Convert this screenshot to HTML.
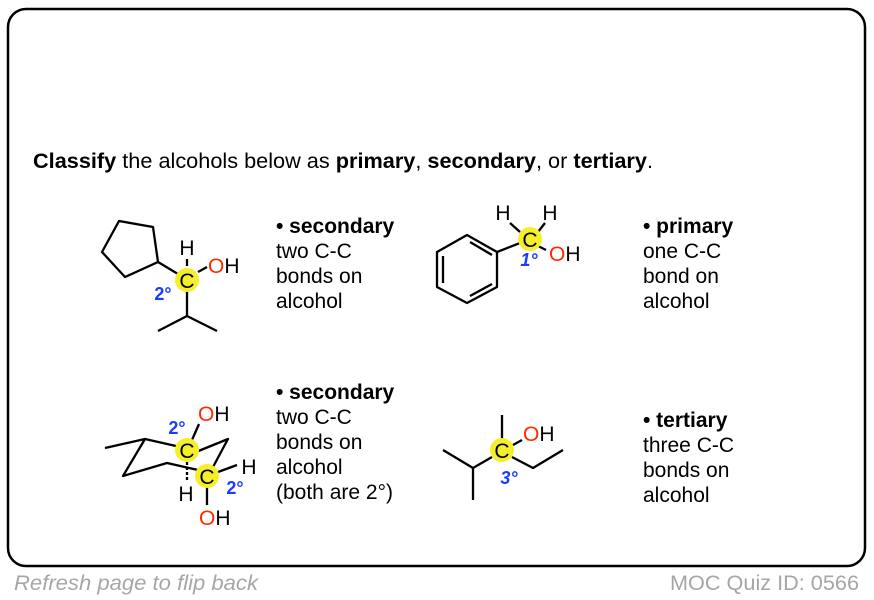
<!DOCTYPE html>
<html><head><meta charset="utf-8"><style>
html,body{margin:0;padding:0;background:#fff;}
svg{display:block;}
text{font-family:"Liberation Sans",Arial,sans-serif;}
</style></head><body>
<svg width="874" height="600" viewBox="0 0 874 600" xmlns="http://www.w3.org/2000/svg">
<rect x="8" y="9" width="857" height="557" rx="18" ry="18" fill="#fff" stroke="#000" stroke-width="2.5"/>
<text x="33" y="168" font-size="21.5" fill="#000" textLength="620" lengthAdjust="spacingAndGlyphs"><tspan font-weight="bold">Classify</tspan> the alcohols below as <tspan font-weight="bold">primary</tspan>, <tspan font-weight="bold">secondary</tspan>, or <tspan font-weight="bold">tertiary</tspan>.</text>

<g font-size="21" fill="#000">
<text x="276" y="233"><tspan font-weight="bold">• secondary</tspan><tspan x="276" y="258">two C-C</tspan><tspan x="276" y="283">bonds on</tspan><tspan x="276" y="308">alcohol</tspan></text>
<text x="643" y="233"><tspan font-weight="bold">• primary</tspan><tspan x="643" y="258">one C-C</tspan><tspan x="643" y="283">bond on</tspan><tspan x="643" y="308">alcohol</tspan></text>
<text x="276" y="399"><tspan font-weight="bold">• secondary</tspan><tspan x="276" y="424">two C-C</tspan><tspan x="276" y="449">bonds on</tspan><tspan x="276" y="474">alcohol</tspan><tspan x="276" y="499">(both are 2°)</tspan></text>
<text x="643" y="427"><tspan font-weight="bold">• tertiary</tspan><tspan x="643" y="452">three C-C</tspan><tspan x="643" y="477">bonds on</tspan><tspan x="643" y="502">alcohol</tspan></text>
</g>

<g stroke="#000" stroke-width="2.3" fill="none" stroke-linejoin="round">
<polygon points="102,252 119,221 153,227 158,262 125,277"/>
<line x1="158" y1="262" x2="178" y2="274"/>
<line x1="187" y1="290" x2="187" y2="316"/>
<polyline points="158,331 187,316 217,331"/>
<line x1="198" y1="272" x2="207" y2="267"/>
<line x1="187" y1="266" x2="187" y2="259"/>
<polygon points="437,252 467,235 497,252 497,287 467,303 437,287"/>
<line x1="443" y1="256" x2="443" y2="283"/>
<line x1="470" y1="242" x2="492" y2="255"/>
<line x1="470" y1="296" x2="492" y2="284"/>
<line x1="497" y1="252" x2="520" y2="243"/>
<line x1="510" y1="223" x2="520" y2="232"/>
<line x1="545" y1="223" x2="538" y2="232"/>
<line x1="538" y1="246" x2="546" y2="250"/>
<line x1="105" y1="448" x2="145" y2="439"/>
<polyline points="176,446 145,439 123,476 167,463 198,470"/>
<polyline points="196,452 228,439 213,467"/>
<line x1="192" y1="440" x2="199" y2="424"/>
<line x1="218" y1="472" x2="237" y2="465"/>
<line x1="207" y1="486" x2="207" y2="505"/>
<line x1="187" y1="462" x2="187" y2="480" stroke-dasharray="3,2"/>
<line x1="502" y1="415" x2="502" y2="439"/>
<line x1="513" y1="445" x2="522" y2="440"/>
<polyline points="512,457 533,468 563,450"/>
<polyline points="492,457 473,468 443,450"/>
<line x1="473" y1="468" x2="473" y2="500"/>
</g>

<g fill="#f5ee2a">
<circle cx="187" cy="280" r="12"/>
<circle cx="530" cy="239" r="12"/>
<circle cx="187" cy="450" r="12"/>
<circle cx="207" cy="476" r="12"/>
<circle cx="502" cy="450" r="12"/>
</g>

<g font-size="21">
<g text-anchor="middle">
<text x="187" y="288">C</text>
<text x="187" y="255">H</text>
<text x="530" y="247">C</text>
<text x="503" y="220">H</text>
<text x="550" y="220">H</text>
<text x="187" y="458">C</text>
<text x="207" y="484">C</text>
<text x="186" y="501">H</text>
<text x="249" y="474">H</text>
<text x="502" y="458">C</text>
</g>
<text x="208" y="273"><tspan fill="#ff2a00">O</tspan>H</text>
<text x="549" y="261"><tspan fill="#ff2a00">O</tspan>H</text>
<text x="198" y="421"><tspan fill="#ff2a00">O</tspan>H</text>
<text x="199" y="525"><tspan fill="#ff2a00">O</tspan>H</text>
<text x="523" y="441"><tspan fill="#ff2a00">O</tspan>H</text>
</g>
<g font-size="18" font-weight="bold" fill="#1a3cff" text-anchor="middle">
<text x="163" y="300">2°</text>
<text x="529" y="266" font-style="italic">1°</text>
<text x="177" y="434">2°</text>
<text x="235" y="494">2°</text>
<text x="509" y="484" font-style="italic">3°</text>
</g>

<text x="14" y="590" font-size="21" font-style="italic" fill="#a6a6a6" textLength="244" lengthAdjust="spacingAndGlyphs">Refresh page to flip back</text>
<text x="670" y="590" font-size="21" fill="#a6a6a6" textLength="189" lengthAdjust="spacingAndGlyphs">MOC Quiz ID: 0566</text>
</svg>
</body></html>
